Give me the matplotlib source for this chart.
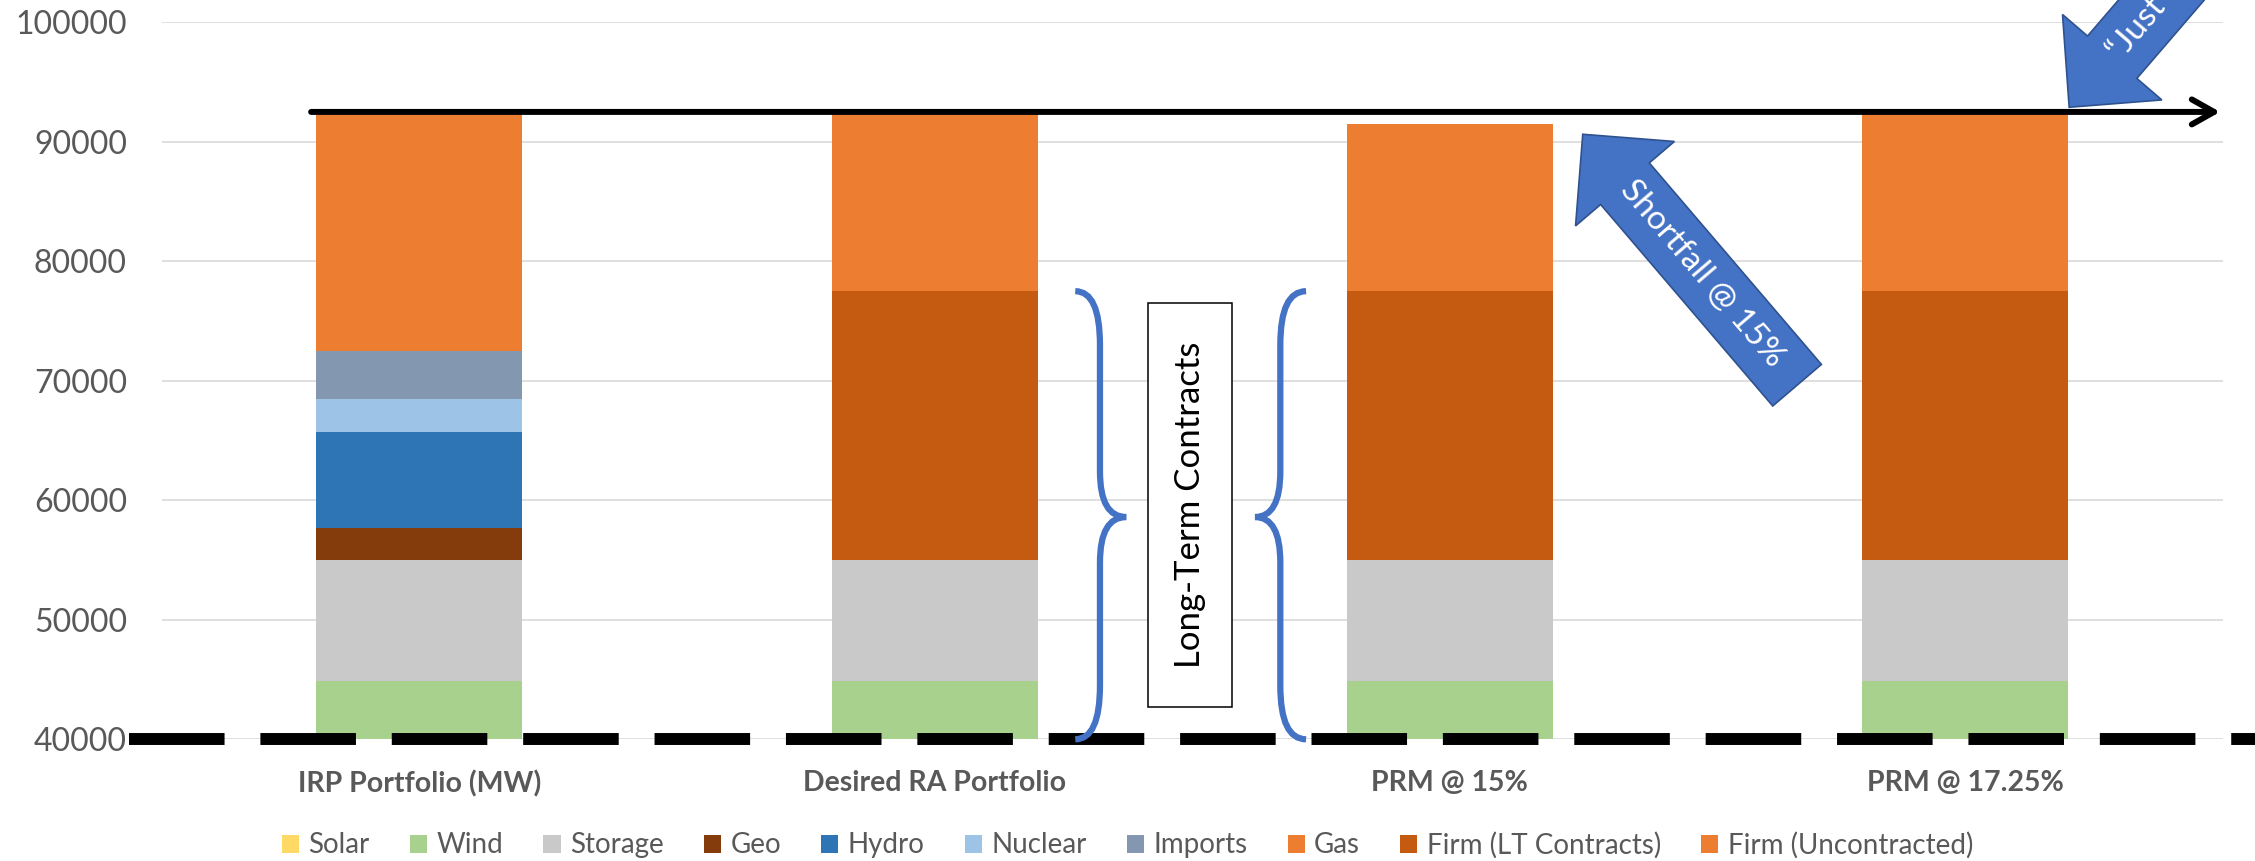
import matplotlib
matplotlib.use('Agg')
import matplotlib.pyplot as plt
import matplotlib.transforms as mtransforms
import numpy as np
from matplotlib.lines import Line2D
from matplotlib.patches import Polygon, Rectangle, PathPatch
from matplotlib.path import Path

plt.rcParams['font.family'] = ['Lato', 'DejaVu Sans']

categories = ['IRP Portfolio (MW)', 'Desired RA Portfolio', 'PRM @ 15%', 'PRM @ 17.25%']

# MW by resource, stacked from the bottom up
solar = [30000, 30000, 30000, 30000]
wind = [14900, 14900, 14900, 14900]
storage = [10100, 10100, 10100, 10100]
geo = [2700, 0, 0, 0]
hydro = [8000, 0, 0, 0]
nuclear = [2800, 0, 0, 0]
imports = [4000, 0, 0, 0]
gas = [19800, 0, 0, 0]
firm_lt = [0, 22500, 22500, 22500]
firm_unc = [0, 14800, 14000, 14800]

series_names = ['Solar', 'Wind', 'Storage', 'Geo', 'Hydro', 'Nuclear', 'Imports', 'Gas',
                'Firm (LT Contracts)', 'Firm (Uncontracted)']
series_values = [solar, wind, storage, geo, hydro, nuclear, imports, gas, firm_lt, firm_unc]
series_colors = ['#FFD966', '#A9D18E', '#C9C9C9', '#843C0C', '#2E75B6', '#9DC3E6', '#8497B0',
                 '#ED7D31', '#C55A11', '#ED7D31']

requirement = 92500   # target capacity line
floor = 40000         # dashed baseline
lt_top = 77500        # top of the long-term contract block
y_ticks = [40000, 50000, 60000, 70000, 80000, 90000, 100000]

W, H = 2255, 861
fig = plt.figure(figsize=(W / 100, H / 100), dpi=100)
ax = fig.add_axes([161.7 / W, 1 - 739.3 / H, 2061 / W, 717 / H])

x = np.arange(len(categories))
bottom = np.zeros(len(categories))
handles = []
for name, vals, col in zip(series_names, series_values, series_colors):
    vals = np.array(vals, dtype=float)
    bars = ax.bar(x, vals, 0.4, bottom=bottom, color=col, label=name, zorder=2)
    handles.append(bars)
    bottom += vals

ax.set_xlim(-0.5, len(categories) - 0.5)
ax.set_ylim(40000, 100000)
ax.set_yticks(y_ticks)
ax.set_yticklabels([str(v) for v in y_ticks], fontsize=23, color='#595959')
ax.set_xticks(x)
ax.set_xticklabels(categories, fontsize=20.5, fontweight='bold', color='#595959')
ax.tick_params(axis='y', length=0, pad=25)
ax.tick_params(axis='x', length=0, pad=22)
for s in ax.spines.values():
    s.set_visible(False)
ax.yaxis.grid(True, color='#D9D9D9', lw=1.2)
ax.set_axisbelow(True)

# dashed floor running across the whole width
blend = mtransforms.blended_transform_factory(fig.transFigure, ax.transData)
dash = Line2D([129 / W, 1.0], [floor, floor], transform=blend, color='black', lw=8.6,
              linestyle=(0, (8.0, 3.0)), dash_capstyle='butt', clip_on=False, zorder=4)
ax.add_line(dash)

# requirement arrow line
ax.annotate('', xy=(3.495, requirement), xytext=(-0.21, requirement),
            arrowprops=dict(arrowstyle='->,head_length=0.8,head_width=0.45', lw=4.3,
                            color='black', shrinkA=0, shrinkB=0, mutation_scale=20,
                            capstyle='round'),
            annotation_clip=False, zorder=5)

px = mtransforms.IdentityTransform()


def block_arrow(tip, angle, length, shaft=64, head_w=130, head_len=65):
    p0 = ax.transData.transform(tip)
    a = np.deg2rad(angle)
    u = np.array([np.cos(a), np.sin(a)])
    n = np.array([-u[1], u[0]])
    pts = [p0,
           p0 + head_len * u + head_w / 2 * n,
           p0 + head_len * u + shaft / 2 * n,
           p0 + length * u + shaft / 2 * n,
           p0 + length * u - shaft / 2 * n,
           p0 + head_len * u - shaft / 2 * n,
           p0 + head_len * u - head_w / 2 * n]
    fig.add_artist(Polygon(pts, closed=True, transform=px, facecolor='#4472C4',
                           edgecolor='#2F528F', lw=1.2, zorder=6))
    return p0, u


p0, u = block_arrow((2.258, 90630), -49.5, 330)
c = p0 + 183 * u
fig.text(c[0], c[1], 'Shortfall @ 15%', transform=px, rotation=-49.5, rotation_mode='anchor',
         ha='center', va='center', color='white', fontsize=24, zorder=7)

p0, u = block_arrow((3.202, 92890), 49.3, 450, shaft=65, head_w=131, head_len=66)
c = p0 + 68 * u
fig.text(c[0], c[1], '\u201cJust Right\u201d', transform=px, rotation=49.3, rotation_mode='anchor',
         ha='left', va='center', color='white', fontsize=24, zorder=7)


def brace(x_end, x_shaft, x_point, y_top, y_mid, y_bot, r_end=4500, r_mid=3800):
    verts = [(x_end, y_top),
             (x_shaft, y_top), (x_shaft, y_top - r_end),
             (x_shaft, y_mid + r_mid),
             (x_shaft, y_mid), (x_point, y_mid),
             (x_shaft, y_mid), (x_shaft, y_mid - r_mid),
             (x_shaft, y_bot + r_end),
             (x_shaft, y_bot), (x_end, y_bot)]
    codes = [Path.MOVETO, Path.CURVE3, Path.CURVE3, Path.LINETO, Path.CURVE3, Path.CURVE3,
             Path.CURVE3, Path.CURVE3, Path.LINETO, Path.CURVE3, Path.CURVE3]
    ax.add_patch(PathPatch(Path(verts, codes), facecolor='none', edgecolor='#4472C4',
                           lw=4.5, clip_on=False, zorder=5))


brace(1.273, 1.321, 1.372, lt_top, 58600, floor)
brace(1.721, 1.671, 1.622, lt_top, 58600, floor)

ax.add_patch(Rectangle((1.4137, 42730), 0.1641, 76485 - 42730, facecolor='white',
                       edgecolor='black', lw=1.1, zorder=5))
ax.text(1.4957, (42730 + 76485) / 2, 'Long-Term Contracts', rotation=90, ha='center',
        va='center', fontsize=25, color='black', zorder=6)

fig.legend(handles, series_names, loc='center', bbox_to_anchor=(0.5, 1 - 845 / H), ncol=10,
           frameon=False, fontsize=20, handlelength=0.62, handleheight=0.62,
           handletextpad=0.33, columnspacing=1.45, labelcolor='#595959')

fig.savefig('out.png', dpi=100)
